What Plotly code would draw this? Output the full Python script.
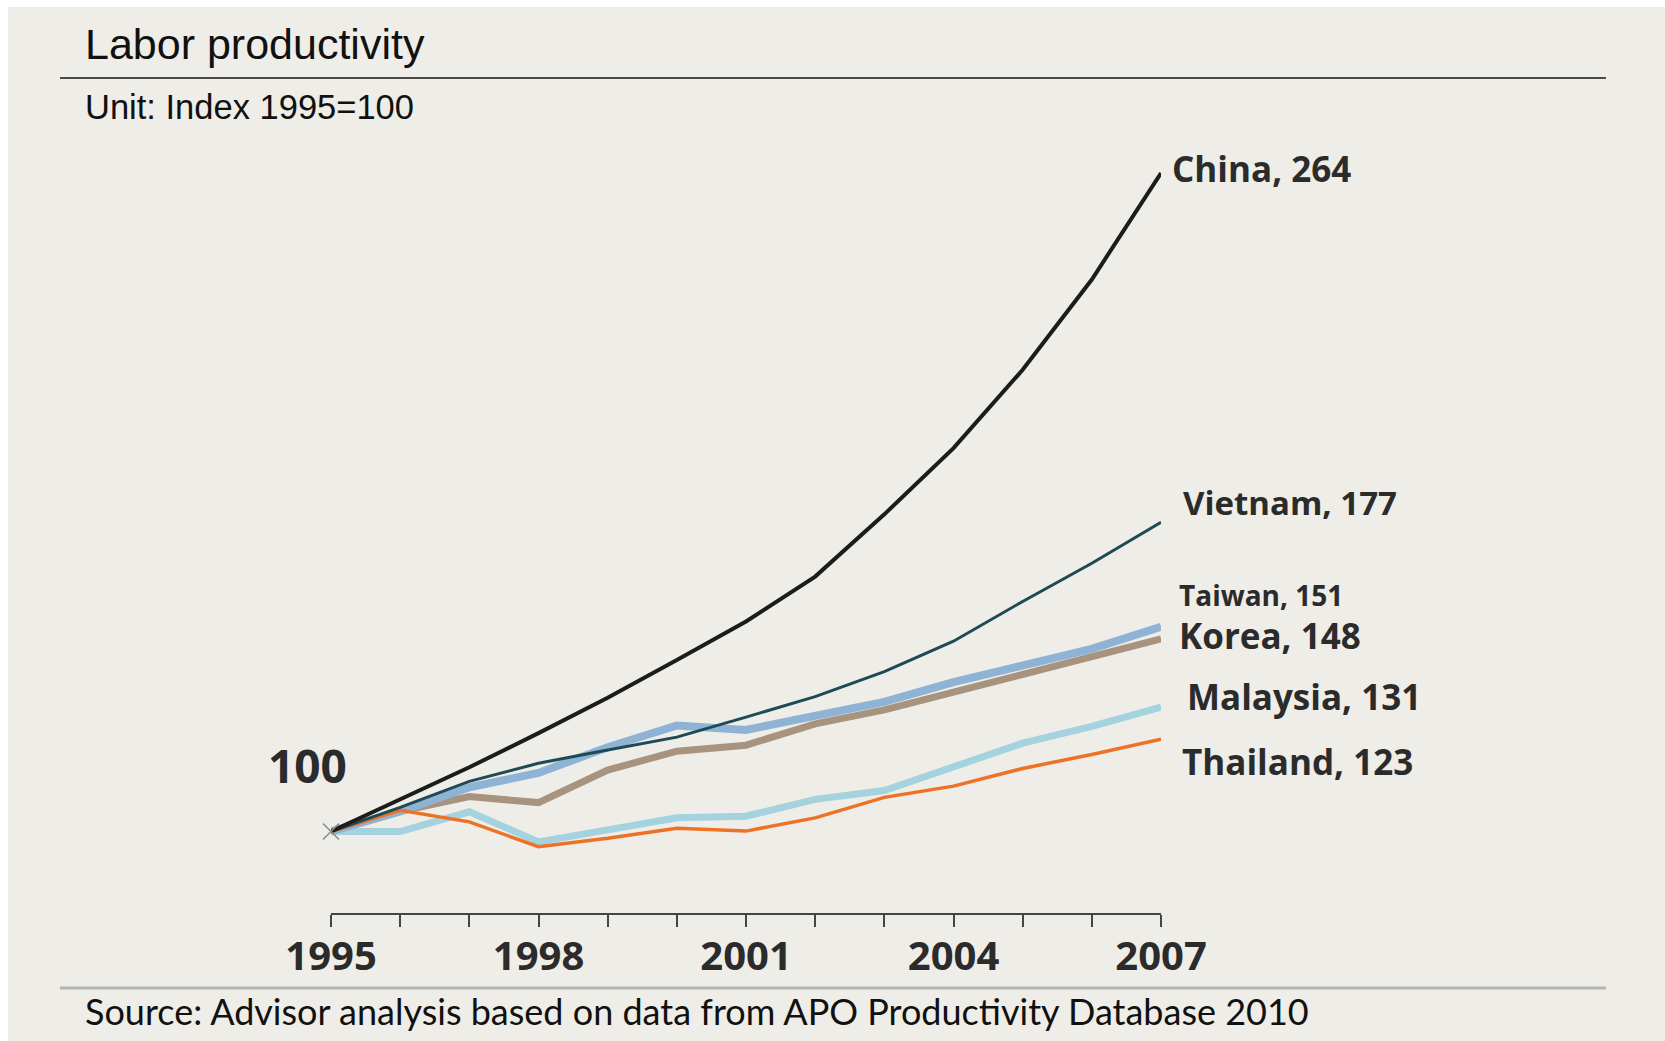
import plotly.graph_objects as go

# ---- data -------------------------------------------------------------
years = list(range(1995, 2008))

china    = [100, 108, 116, 124.5, 133.3, 142.7, 152.3, 163.5, 179, 195.5, 215, 237.5, 264]
vietnam  = [100, 106, 112.5, 117, 120.3, 123.5, 128.5, 133.6, 139.8, 147.4, 157.3, 166.8, 177]
taiwan   = [100, 105, 111, 114.6, 121, 126.4, 125.3, 129, 132.3, 137.2, 141.4, 145.5, 151]
korea    = [100, 105, 108.7, 107.2, 115.3, 120, 121.5, 126.8, 130.3, 134.7, 139, 143.7, 148]
malaysia = [100, 100, 104.9, 97.4, 100.4, 103.4, 103.8, 108, 110.2, 115.9, 122, 126.2, 131]
thailand = [100, 105.3, 102.4, 96.2, 98.3, 100.8, 100.1, 103.4, 108.5, 111.3, 115.7, 119.2, 123]

labeled_years = [1995, 1998, 2001, 2004, 2007]

# ---- layout geometry (pixels) ----------------------------------------
W, H = 1665, 1041
L, R, T, B = 331, 504, 149, 128
PW, PH = W - L - R, H - T - B
BG = "#EEEDE7"
TEXT = "#2B2B2B"


def px_x(px):
    return (px - L) / PW


def px_y(py):
    return (H - B - py) / PH


# series: name, values, colour, width, label yshift, label xshift, font size
series = [
    ("Malaysia", malaysia, "#A4D2DE", 7, 11, 24, 35),
    ("Korea", korea, "#A8937E", 7, 3, 16, 35),
    ("Taiwan", taiwan, "#8EB3D5", 8, 32, 16, 28),
    ("Thailand", thailand, "#EE7225", 3.5, -22, 19, 35),
    ("Vietnam", vietnam, "#1E4A55", 3, 20, 20, 33),
    ("China", china, "#1C1C1C", 4, 5, 9, 35),
]

fig = go.Figure()

for name, vals, color, width, *_ in series:
    fig.add_trace(go.Scatter(
        x=years, y=vals, mode="lines", name=name,
        line=dict(color=color, width=width),
        hoverinfo="x+y+name",
    ))

# common starting point marker
fig.add_trace(go.Scatter(
    x=[years[0]], y=[china[0]], mode="markers",
    marker=dict(symbol="x-thin", size=16, line=dict(color="#8A8A8A", width=1.5)),
    cliponaxis=False, hoverinfo="skip",
))

annotations = []
for name, vals, color, width, ys, xs, size in series:
    annotations.append(dict(
        x=years[-1], y=vals[-1], xref="x", yref="y",
        text=f"{name}, {vals[-1]:g}", showarrow=False,
        xanchor="left", yanchor="middle", xshift=xs, yshift=ys,
        font=dict(family="Open Sans", size=size, color=TEXT, weight="bold"),
    ))

# start value label
annotations.append(dict(
    x=years[0], y=china[0], xref="x", yref="y", text=f"{china[0]}",
    showarrow=False, xanchor="right", yanchor="middle", xshift=18, yshift=67,
    font=dict(family="Open Sans", size=46, color=TEXT, weight="bold"),
))

# title, unit and source texts
annotations += [
    dict(x=px_x(83), y=px_y(44), xref="paper", yref="paper",
         text="Labor productivity", showarrow=False, xanchor="left", yanchor="middle",
         font=dict(family="Liberation Sans", size=43, color="#111111")),
    dict(x=px_x(83), y=px_y(107), xref="paper", yref="paper",
         text="Unit: Index 1995=100", showarrow=False, xanchor="left", yanchor="middle",
         font=dict(family="Liberation Sans", size=34.5, color="#111111")),
    dict(x=px_x(83), y=px_y(1011), xref="paper", yref="paper",
         text="Source: Advisor analysis based on data from APO Productivity Database 2010",
         showarrow=False, xanchor="left", yanchor="middle",
         font=dict(family="Lato", size=36, color="#111111")),
]

shapes = [
    # beige panel inside a thin white border
    dict(type="rect", xref="paper", yref="paper", layer="below",
         x0=px_x(8), x1=px_x(W + 5), y0=px_y(H + 5), y1=px_y(7),
         fillcolor=BG, line=dict(width=0)),
    # rule under the title
    dict(type="line", xref="paper", yref="paper",
         x0=px_x(60), x1=px_x(1606), y0=px_y(78), y1=px_y(78),
         line=dict(color="#4A4A4A", width=2)),
    # rule above the source
    dict(type="line", xref="paper", yref="paper",
         x0=px_x(60), x1=px_x(1606), y0=px_y(988), y1=px_y(988),
         line=dict(color="#B4B4B2", width=3)),
]

fig.update_layout(
    width=W, height=H,
    margin=dict(l=L, r=R, t=T, b=B, pad=0),
    paper_bgcolor="#FFFFFF", plot_bgcolor="rgba(0,0,0,0)",
    showlegend=False,
    annotations=annotations, shapes=shapes,
    font=dict(family="Open Sans", color=TEXT),
)

fig.update_xaxes(
    range=[years[0], years[-1]],
    tickvals=years,
    ticktext=[str(y) if y in labeled_years else "" for y in years],
    showline=True, linecolor="#454545", linewidth=2,
    ticks="outside", ticklen=12, tickwidth=2, tickcolor="#454545",
    showgrid=False, zeroline=False,
    tickfont=dict(family="Open Sans", size=40, color=TEXT, weight="bold"),
    ticklabelstandoff=-5,
)
fig.update_yaxes(
    range=[79.7, 270],
    showline=False, showgrid=False, zeroline=False, showticklabels=False, ticks="",
)

fig.write_html("out.html")
